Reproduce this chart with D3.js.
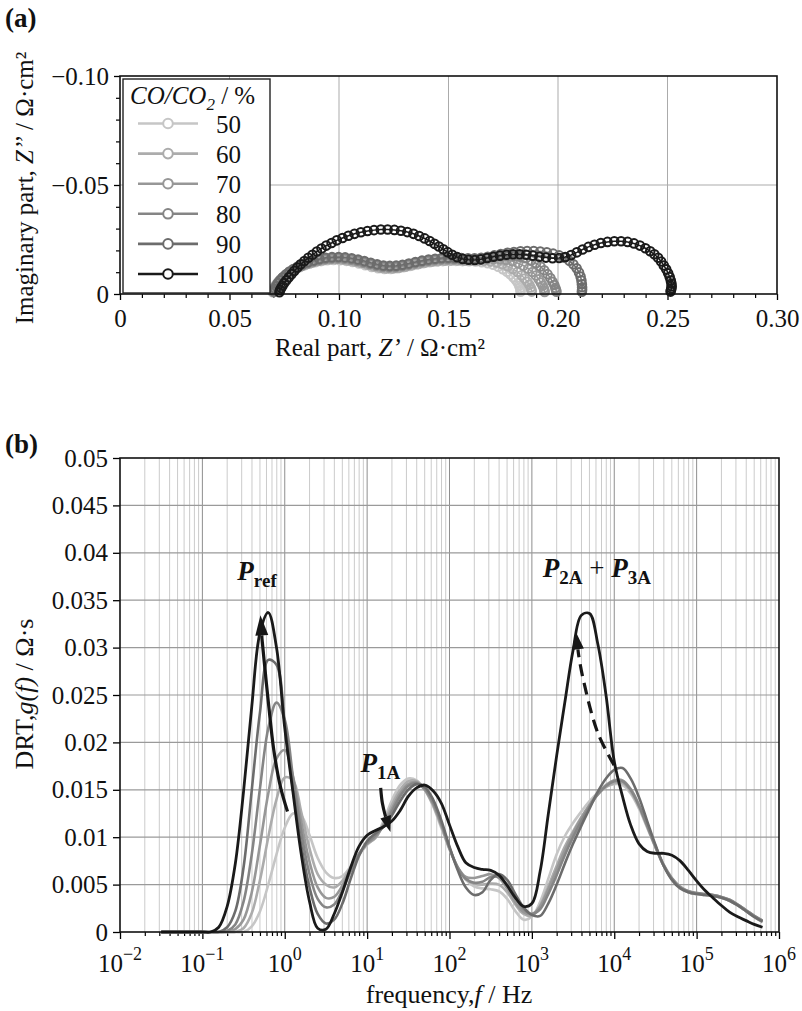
<!DOCTYPE html>
<html>
<head>
<meta charset="utf-8">
<script src="https://cdn.jsdelivr.net/npm/d3@7"></script>
<style>
  body { margin: 0; background: #fff; }
  svg { display: block; font-family: "Liberation Serif", "Times New Roman", serif; }
</style>
</head>
<body>
<svg id="chart" width="802" height="1011"></svg>
<script>
// ---------- Nyquist data (Z', Z'') in ohm·cm², one list per CO/CO2 ratio ----------
const seriesNames = ["50", "60", "70", "80", "90", "100"];
const seriesColors = ["#c6c6c6", "#acacac", "#979797", "#858585", "#6c6c6c", "#1a1a1a"];

const nyq50 = [[0.0697,-0.0008],[0.0700,-0.0019],[0.0705,-0.0030],[0.0712,-0.0042],[0.0721,-0.0054],[0.0732,-0.0066],[0.0745,-0.0078],[0.0760,-0.0090],[0.0777,-0.0101],[0.0796,-0.0112],[0.0817,-0.0122],[0.0840,-0.0131],[0.0865,-0.0139],[0.0891,-0.0146],[0.0918,-0.0151],[0.0946,-0.0155],[0.0975,-0.0156],[0.1004,-0.0155],[0.1033,-0.0152],[0.1062,-0.0147],[0.1091,-0.0140],[0.1120,-0.0132],[0.1149,-0.0124],[0.1178,-0.0118],[0.1207,-0.0115],[0.1236,-0.0115],[0.1265,-0.0118],[0.1294,-0.0123],[0.1324,-0.0129],[0.1354,-0.0135],[0.1384,-0.0141],[0.1414,-0.0146],[0.1444,-0.0149],[0.1474,-0.0151],[0.1504,-0.0152],[0.1534,-0.0152],[0.1564,-0.0151],[0.1594,-0.0150],[0.1624,-0.0149],[0.1652,-0.0146],[0.1679,-0.0141],[0.1704,-0.0134],[0.1727,-0.0125],[0.1748,-0.0114],[0.1767,-0.0102],[0.1783,-0.0089],[0.1797,-0.0076],[0.1808,-0.0063],[0.1817,-0.0050],[0.1823,-0.0038],[0.1827,-0.0027],[0.1829,-0.0018],[0.1829,-0.0010]];
const nyq60 = [[0.0699,-0.0009],[0.0702,-0.0020],[0.0708,-0.0032],[0.0715,-0.0044],[0.0725,-0.0056],[0.0736,-0.0069],[0.0750,-0.0081],[0.0765,-0.0093],[0.0783,-0.0105],[0.0802,-0.0116],[0.0824,-0.0126],[0.0847,-0.0135],[0.0872,-0.0143],[0.0899,-0.0150],[0.0927,-0.0155],[0.0955,-0.0159],[0.0984,-0.0160],[0.1014,-0.0158],[0.1043,-0.0154],[0.1072,-0.0149],[0.1101,-0.0142],[0.1130,-0.0134],[0.1159,-0.0126],[0.1188,-0.0120],[0.1217,-0.0117],[0.1246,-0.0117],[0.1275,-0.0120],[0.1304,-0.0125],[0.1334,-0.0132],[0.1364,-0.0138],[0.1394,-0.0144],[0.1424,-0.0148],[0.1454,-0.0151],[0.1484,-0.0153],[0.1514,-0.0154],[0.1544,-0.0154],[0.1574,-0.0153],[0.1604,-0.0153],[0.1634,-0.0153],[0.1663,-0.0152],[0.1692,-0.0149],[0.1720,-0.0144],[0.1746,-0.0137],[0.1771,-0.0127],[0.1794,-0.0115],[0.1815,-0.0101],[0.1833,-0.0086],[0.1848,-0.0071],[0.1860,-0.0056],[0.1869,-0.0042],[0.1875,-0.0030],[0.1879,-0.0020],[0.1880,-0.0011]];
const nyq70 = [[0.0700,-0.0010],[0.0704,-0.0021],[0.0710,-0.0033],[0.0718,-0.0045],[0.0728,-0.0058],[0.0740,-0.0071],[0.0754,-0.0084],[0.0770,-0.0096],[0.0788,-0.0108],[0.0808,-0.0119],[0.0830,-0.0129],[0.0854,-0.0138],[0.0880,-0.0146],[0.0907,-0.0153],[0.0935,-0.0158],[0.0964,-0.0161],[0.0994,-0.0162],[0.1024,-0.0160],[0.1054,-0.0156],[0.1083,-0.0150],[0.1112,-0.0143],[0.1141,-0.0135],[0.1170,-0.0128],[0.1199,-0.0123],[0.1228,-0.0121],[0.1257,-0.0122],[0.1286,-0.0126],[0.1315,-0.0132],[0.1345,-0.0139],[0.1375,-0.0145],[0.1405,-0.0150],[0.1435,-0.0154],[0.1465,-0.0157],[0.1495,-0.0158],[0.1525,-0.0158],[0.1555,-0.0157],[0.1585,-0.0156],[0.1615,-0.0156],[0.1645,-0.0157],[0.1675,-0.0159],[0.1705,-0.0160],[0.1735,-0.0159],[0.1764,-0.0156],[0.1792,-0.0150],[0.1818,-0.0141],[0.1842,-0.0130],[0.1864,-0.0116],[0.1883,-0.0101],[0.1899,-0.0085],[0.1912,-0.0068],[0.1922,-0.0052],[0.1930,-0.0038],[0.1935,-0.0026],[0.1938,-0.0016],[0.1939,-0.0009]];
const nyq80 = [[0.0702,-0.0011],[0.0706,-0.0022],[0.0712,-0.0035],[0.0720,-0.0048],[0.0730,-0.0061],[0.0742,-0.0074],[0.0756,-0.0087],[0.0772,-0.0100],[0.0790,-0.0112],[0.0810,-0.0123],[0.0832,-0.0133],[0.0856,-0.0142],[0.0882,-0.0150],[0.0909,-0.0157],[0.0937,-0.0162],[0.0966,-0.0165],[0.0996,-0.0166],[0.1026,-0.0164],[0.1056,-0.0160],[0.1085,-0.0154],[0.1114,-0.0147],[0.1143,-0.0139],[0.1172,-0.0132],[0.1201,-0.0127],[0.1230,-0.0125],[0.1259,-0.0126],[0.1288,-0.0130],[0.1317,-0.0136],[0.1347,-0.0143],[0.1377,-0.0149],[0.1407,-0.0154],[0.1437,-0.0158],[0.1467,-0.0161],[0.1497,-0.0162],[0.1527,-0.0162],[0.1557,-0.0161],[0.1587,-0.0160],[0.1617,-0.0160],[0.1647,-0.0162],[0.1677,-0.0166],[0.1707,-0.0170],[0.1737,-0.0173],[0.1767,-0.0175],[0.1797,-0.0175],[0.1826,-0.0171],[0.1853,-0.0164],[0.1878,-0.0154],[0.1900,-0.0141],[0.1920,-0.0126],[0.1937,-0.0109],[0.1952,-0.0091],[0.1965,-0.0073],[0.1975,-0.0056],[0.1983,-0.0041],[0.1988,-0.0028],[0.1991,-0.0018],[0.1993,-0.0010]];
const nyq90 = [[0.0704,-0.0012],[0.0708,-0.0024],[0.0714,-0.0037],[0.0722,-0.0050],[0.0732,-0.0063],[0.0744,-0.0077],[0.0758,-0.0090],[0.0774,-0.0103],[0.0792,-0.0115],[0.0812,-0.0126],[0.0834,-0.0137],[0.0858,-0.0146],[0.0884,-0.0154],[0.0911,-0.0161],[0.0939,-0.0166],[0.0968,-0.0169],[0.0998,-0.0170],[0.1028,-0.0168],[0.1058,-0.0164],[0.1087,-0.0158],[0.1116,-0.0151],[0.1145,-0.0143],[0.1174,-0.0136],[0.1203,-0.0131],[0.1232,-0.0129],[0.1261,-0.0130],[0.1290,-0.0134],[0.1319,-0.0140],[0.1349,-0.0147],[0.1379,-0.0153],[0.1409,-0.0158],[0.1439,-0.0162],[0.1469,-0.0165],[0.1499,-0.0166],[0.1529,-0.0166],[0.1559,-0.0165],[0.1589,-0.0164],[0.1619,-0.0164],[0.1649,-0.0166],[0.1679,-0.0171],[0.1709,-0.0177],[0.1739,-0.0183],[0.1769,-0.0189],[0.1799,-0.0193],[0.1829,-0.0196],[0.1859,-0.0197],[0.1889,-0.0197],[0.1919,-0.0195],[0.1949,-0.0191],[0.1978,-0.0185],[0.2005,-0.0177],[0.2030,-0.0166],[0.2052,-0.0152],[0.2070,-0.0136],[0.2085,-0.0118],[0.2096,-0.0099],[0.2103,-0.0080],[0.2107,-0.0062],[0.2109,-0.0045],[0.2110,-0.0031],[0.2110,-0.0019],[0.2109,-0.0010]];
const nyq100 = [[0.0728,-0.0008],[0.0731,-0.0018],[0.0736,-0.0028],[0.0742,-0.0038],[0.0750,-0.0050],[0.0760,-0.0063],[0.0771,-0.0077],[0.0783,-0.0091],[0.0796,-0.0106],[0.0810,-0.0121],[0.0825,-0.0136],[0.0842,-0.0151],[0.0860,-0.0166],[0.0879,-0.0180],[0.0899,-0.0195],[0.0920,-0.0209],[0.0942,-0.0222],[0.0966,-0.0234],[0.0990,-0.0246],[0.1016,-0.0257],[0.1043,-0.0267],[0.1071,-0.0276],[0.1100,-0.0283],[0.1130,-0.0289],[0.1160,-0.0293],[0.1191,-0.0296],[0.1222,-0.0296],[0.1253,-0.0294],[0.1283,-0.0290],[0.1312,-0.0284],[0.1340,-0.0276],[0.1366,-0.0266],[0.1391,-0.0255],[0.1414,-0.0243],[0.1436,-0.0230],[0.1456,-0.0218],[0.1476,-0.0205],[0.1496,-0.0192],[0.1517,-0.0180],[0.1540,-0.0169],[0.1565,-0.0161],[0.1592,-0.0157],[0.1620,-0.0156],[0.1648,-0.0159],[0.1676,-0.0165],[0.1705,-0.0171],[0.1735,-0.0176],[0.1765,-0.0180],[0.1795,-0.0182],[0.1825,-0.0182],[0.1855,-0.0180],[0.1885,-0.0176],[0.1915,-0.0171],[0.1945,-0.0167],[0.1975,-0.0164],[0.2005,-0.0165],[0.2033,-0.0170],[0.2060,-0.0179],[0.2086,-0.0191],[0.2112,-0.0204],[0.2139,-0.0216],[0.2167,-0.0226],[0.2196,-0.0234],[0.2226,-0.0239],[0.2257,-0.0242],[0.2288,-0.0242],[0.2318,-0.0239],[0.2347,-0.0232],[0.2374,-0.0222],[0.2399,-0.0210],[0.2421,-0.0196],[0.2440,-0.0182],[0.2457,-0.0166],[0.2471,-0.0149],[0.2483,-0.0131],[0.2494,-0.0113],[0.2503,-0.0095],[0.2510,-0.0078],[0.2515,-0.0062],[0.2518,-0.0048],[0.2519,-0.0036],[0.2518,-0.0026],[0.2516,-0.0018],[0.2514,-0.0011]];

// ---------- DRT data: frequency grid (Hz) and g(f) in ohm·s ----------
const freqHz = [
  0.0316, 0.1, 0.126, 0.158, 0.2, 0.251, 0.316, 0.398, 0.501, 0.631,
  0.794, 1, 1.26, 1.58, 2, 2.51, 3.16, 3.98, 5.01, 6.31,
  7.94, 10, 12.6, 15.8, 20, 25.1, 31.6, 39.8, 50.1, 63.1,
  79.4, 100, 126, 158, 200, 251, 316, 398, 501, 631,
  794, 1000, 1260, 1580, 2000, 2510, 3160, 3980, 5010, 6310,
  7940, 1e4, 12600, 15800, 20000, 25100, 31600, 39800, 50100, 63100,
  79400, 1e5, 126000, 158000, 200000, 251000, 316000, 398000, 501000, 631000
];
const drt50 = [
  0, 0, 0, 0, 0, 0, 0, 0.0006, 0.0022, 0.0050,
  0.0082, 0.0110, 0.0125, 0.0123, 0.0102, 0.0078, 0.0063, 0.0057, 0.0059, 0.0069,
  0.0081, 0.0092, 0.0100, 0.0117, 0.0139, 0.0155, 0.0162, 0.0160, 0.0150, 0.0133,
  0.0110, 0.0087, 0.0068, 0.0055, 0.0048, 0.0046, 0.0045, 0.0043, 0.0035, 0.0022,
  0.0013, 0.0016, 0.0032, 0.0056, 0.0082, 0.0101, 0.0115, 0.0127, 0.0138, 0.0147,
  0.0153, 0.0156, 0.0155, 0.0146, 0.0130, 0.0110, 0.0089, 0.0070, 0.0056, 0.0047,
  0.0042, 0.0040, 0.0039, 0.0038, 0.0036, 0.0033, 0.0028, 0.0022, 0.0016, 0.0010
];
const drt60 = [
  0, 0, 0, 0, 0, 0, 0.0004, 0.0020, 0.0055, 0.0100,
  0.0140, 0.0163, 0.0160, 0.0127, 0.0088, 0.0061, 0.0050, 0.0047, 0.0054, 0.0068,
  0.0082, 0.0093, 0.0099, 0.0114, 0.0134, 0.0150, 0.0159, 0.0159, 0.0150, 0.0134,
  0.0112, 0.0088, 0.0068, 0.0056, 0.0051, 0.0050, 0.0051, 0.0050, 0.0042, 0.0029,
  0.0019, 0.0017, 0.0028, 0.0048, 0.0070, 0.0090, 0.0106, 0.0121, 0.0134, 0.0145,
  0.0153, 0.0157, 0.0157, 0.0148, 0.0132, 0.0111, 0.0090, 0.0070, 0.0056, 0.0047,
  0.0042, 0.0040, 0.0039, 0.0038, 0.0036, 0.0033, 0.0028, 0.0022, 0.0016, 0.0011
];
const drt70 = [
  0, 0, 0, 0, 0, 0.0003, 0.0013, 0.0042, 0.0092, 0.0146,
  0.0183, 0.0192, 0.0164, 0.0117, 0.0074, 0.0047, 0.0036, 0.0037, 0.0049, 0.0066,
  0.0082, 0.0093, 0.0100, 0.0113, 0.0130, 0.0146, 0.0156, 0.0158, 0.0150, 0.0135,
  0.0113, 0.0088, 0.0068, 0.0058, 0.0057, 0.0059, 0.0061, 0.0057, 0.0046, 0.0031,
  0.0021, 0.0019, 0.0027, 0.0045, 0.0066, 0.0086, 0.0104, 0.0120, 0.0134, 0.0146,
  0.0155, 0.0160, 0.0160, 0.0151, 0.0134, 0.0113, 0.0091, 0.0071, 0.0057, 0.0048,
  0.0043, 0.0041, 0.0040, 0.0039, 0.0037, 0.0034, 0.0029, 0.0023, 0.0017, 0.0012
];
const drt80 = [
  0, 0, 0, 0, 0.0001, 0.0008, 0.0032, 0.0082, 0.0152, 0.0215,
  0.0242, 0.0224, 0.0163, 0.0106, 0.0061, 0.0035, 0.0026, 0.0029, 0.0044, 0.0064,
  0.0082, 0.0094, 0.0102, 0.0112, 0.0127, 0.0143, 0.0154, 0.0157, 0.0151, 0.0137,
  0.0115, 0.0089, 0.0068, 0.0056, 0.0052, 0.0053, 0.0058, 0.0058, 0.0050, 0.0036,
  0.0024, 0.0019, 0.0024, 0.0040, 0.0060, 0.0081, 0.0100, 0.0117, 0.0132, 0.0145,
  0.0154, 0.0159, 0.0159, 0.0150, 0.0133, 0.0112, 0.0090, 0.0070, 0.0056, 0.0047,
  0.0043, 0.0041, 0.0040, 0.0039, 0.0037, 0.0034, 0.0029, 0.0023, 0.0017, 0.0012
];
const drt90 = [
  0, 0, 0, 0, 0.0005, 0.0022, 0.0068, 0.0150, 0.0232, 0.0287,
  0.0282, 0.0220, 0.0150, 0.0092, 0.0047, 0.0019, 0.0009, 0.0013, 0.0030, 0.0056,
  0.0080, 0.0096, 0.0104, 0.0111, 0.0123, 0.0138, 0.0150, 0.0156, 0.0153, 0.0140,
  0.0118, 0.0090, 0.0065, 0.0047, 0.0039, 0.0042, 0.0055, 0.0061, 0.0055, 0.0040,
  0.0026, 0.0018, 0.0017, 0.0030, 0.0050, 0.0072, 0.0093, 0.0112, 0.0130, 0.0148,
  0.0162, 0.0171, 0.0173, 0.0162, 0.0142, 0.0117, 0.0092, 0.0070, 0.0055, 0.0046,
  0.0042, 0.0040, 0.0039, 0.0038, 0.0036, 0.0033, 0.0028, 0.0022, 0.0016, 0.0011
];
const drt100 = [
  0, 0, 0, 0.0005, 0.0027, 0.0072, 0.0148, 0.0238, 0.0316, 0.0337,
  0.0300, 0.0215, 0.0147, 0.0083, 0.0032, 0.0004, 0.0003, 0.0019, 0.0042, 0.0068,
  0.0090, 0.0102, 0.0107, 0.0111, 0.0117, 0.0128, 0.0143, 0.0152, 0.0155, 0.0149,
  0.0136, 0.0113, 0.0090, 0.0073, 0.0068, 0.0066, 0.0065, 0.0060, 0.0049, 0.0036,
  0.0027, 0.0030, 0.0064, 0.0124, 0.0186, 0.0242, 0.0297, 0.0334, 0.0336, 0.0304,
  0.0250, 0.0180, 0.0143, 0.0113, 0.0093, 0.0085, 0.0083, 0.0083, 0.0081, 0.0075,
  0.0065, 0.0054, 0.0044, 0.0036, 0.0028, 0.0021, 0.0016, 0.0012, 0.0008, 0.0005
];

// ---------- tick values ----------
const xTicksA = [0, 0.05, 0.10, 0.15, 0.20, 0.25, 0.30];
const yTicksA = [0, -0.05, -0.10];
const xTicksB = [1e-2, 1e-1, 1e0, 1e1, 1e2, 1e3, 1e4, 1e5, 1e6];
const yTicksB = [0, 0.005, 0.01, 0.015, 0.02, 0.025, 0.03, 0.035, 0.04, 0.045, 0.05];

// ---------- annotation anchors (frequency, g) ----------
const arrowRef = [[1.08, 0.0127], [0.887, 0.0153], [0.736, 0.0192], [0.640, 0.0238], [0.582, 0.0273], [0.531, 0.0308], [0.507, 0.0334]];
const arrow1A = [[14.6, 0.0152], [15.3, 0.0136], [16.7, 0.0122], [19.2, 0.01055]];
const arrow23A = [[9960, 0.0176], [6310, 0.0210], [4140, 0.0269], [3700, 0.0292], [3400, 0.0317]];
const labelRef = [0.266, 0.0371];
const label1A = [8.3, 0.0169];
const label23A = [1352, 0.03745];

const nyqSeries = [nyq50, nyq60, nyq70, nyq80, nyq90, nyq100];
const drtSeries = [drt50, drt60, drt70, drt80, drt90, drt100];

const FONT = '"Liberation Serif", "Times New Roman", serif';
const svg = d3.select("#chart");

// ================= Panel (a): Nyquist plot =================
const A = { left: 120, right: 777, top: 76, bottom: 294 };
const xA = d3.scaleLinear().domain([0, 0.30]).range([A.left, A.right]);
const yA = d3.scaleLinear().domain([0, -0.10]).range([A.bottom, A.top]);
const fmtA = d => d === 0 ? "0" : d3.format(".2f")(d);

const gA = svg.append("g");
// grid
gA.append("g").selectAll("line").data(xTicksA.filter(d => d > 0 && d < 0.30)).join("line")
  .attr("x1", d => xA(d)).attr("x2", d => xA(d)).attr("y1", A.top).attr("y2", A.bottom)
  .attr("stroke", "#ababab").attr("stroke-width", 1);
gA.append("g").selectAll("line").data(yTicksA.filter(d => d !== 0 && d !== -0.10)).join("line")
  .attr("x1", A.left).attr("x2", A.right).attr("y1", d => yA(d)).attr("y2", d => yA(d))
  .attr("stroke", "#ababab").attr("stroke-width", 1);

// minor ticks
const minorXA = d3.range(1, 30).map(i => i / 100).filter(v => Math.round(v * 100) % 5 !== 0);
const minorYA = d3.range(1, 10).map(i => -i / 100).filter(v => Math.round(-v * 100) % 5 !== 0);
gA.append("g").attr("transform", `translate(0,${A.bottom})`)
  .call(d3.axisBottom(xA).tickValues(minorXA).tickSize(4).tickFormat(""))
  .call(g => g.select(".domain").remove())
  .selectAll("line").attr("stroke-width", 1.2);
gA.append("g").attr("transform", `translate(${A.left},0)`)
  .call(d3.axisLeft(yA).tickValues(minorYA).tickSize(4).tickFormat(""))
  .call(g => g.select(".domain").remove())
  .selectAll("line").attr("stroke-width", 1.2);

// major axes
const axXA = gA.append("g").attr("transform", `translate(0,${A.bottom})`)
  .call(d3.axisBottom(xA).tickValues(xTicksA).tickSize(6).tickPadding(9).tickFormat(fmtA));
const axYA = gA.append("g").attr("transform", `translate(${A.left},0)`)
  .call(d3.axisLeft(yA).tickValues(yTicksA).tickSize(6).tickPadding(5).tickFormat(fmtA));
[axXA, axYA].forEach(ax => {
  ax.attr("font-family", FONT).attr("font-size", 25);
  ax.select(".domain").remove();
  ax.selectAll("line").attr("stroke-width", 1.3);
  ax.selectAll("text").attr("fill", "#111");
});

// series: thin connecting line + open circles
const lineA = d3.line().x(d => xA(d[0])).y(d => yA(d[1]));
nyqSeries.forEach((data, i) => {
  const g = gA.append("g");
  g.append("path").attr("d", lineA(data)).attr("fill", "none")
    .attr("stroke", seriesColors[i]).attr("stroke-width", 1.5);
  g.selectAll("circle").data(data).join("circle")
    .attr("cx", d => xA(d[0])).attr("cy", d => yA(d[1])).attr("r", 4.3)
    .attr("fill", "none").attr("stroke", seriesColors[i]).attr("stroke-width", 2);
});

// frame
gA.append("rect").attr("x", A.left).attr("y", A.top)
  .attr("width", A.right - A.left).attr("height", A.bottom - A.top)
  .attr("fill", "none").attr("stroke", "#111").attr("stroke-width", 1.6);

// legend
const leg = gA.append("g");
leg.append("rect").attr("x", 123).attr("y", 79).attr("width", 147).attr("height", 214)
  .attr("fill", "#fff").attr("stroke", "#222").attr("stroke-width", 1.4);
const legTitle = leg.append("text").attr("x", 130).attr("y", 104)
  .attr("font-size", 25).attr("fill", "#111");
legTitle.append("tspan").attr("font-style", "italic").text("CO/CO");
legTitle.append("tspan").attr("font-style", "italic").attr("font-size", 17).attr("dy", 6).text("2");
legTitle.append("tspan").attr("dy", -6).text(" / %");
seriesNames.forEach((name, i) => {
  const y = 123.5 + i * 30.1;
  leg.append("line").attr("x1", 138).attr("x2", 198).attr("y1", y).attr("y2", y)
    .attr("stroke", seriesColors[i]).attr("stroke-width", 2.6);
  leg.append("circle").attr("cx", 168).attr("cy", y).attr("r", 4.8)
    .attr("fill", "#fff").attr("stroke", seriesColors[i]).attr("stroke-width", 2);
  leg.append("text").attr("x", 216).attr("y", y + 9).attr("font-size", 25)
    .attr("fill", "#111").text(name);
});

// axis titles (a)
const tAx = svg.append("text").attr("x", 380).attr("y", 356).attr("text-anchor", "middle")
  .attr("font-size", 25).attr("fill", "#111");
tAx.append("tspan").text("Real part, ");
tAx.append("tspan").attr("font-style", "italic").text("Z’");
tAx.append("tspan").text(" / Ω·cm²");
const tAy = svg.append("text").attr("transform", "translate(33,188) rotate(-90)")
  .attr("text-anchor", "middle").attr("font-size", 25).attr("fill", "#111");
tAy.append("tspan").text("Imaginary part, ");
tAy.append("tspan").attr("font-style", "italic").text("Z’’");
tAy.append("tspan").text(" / Ω·cm²");

svg.append("text").attr("x", 5).attr("y", 27).attr("font-size", 27).attr("font-weight", "bold")
  .attr("fill", "#111").text("(a)");

// ================= Panel (b): DRT =================
const B = { left: 120, right: 779, top: 458, bottom: 932 };
const xB = d3.scaleLog().domain([1e-2, 1e6]).range([B.left, B.right]);
const yB = d3.scaleLinear().domain([0, 0.05]).range([B.bottom, B.top]);

const gB = svg.append("g");
// vertical grid: minor (2..9) and decades
const minorB = [];
for (let e = -2; e < 6; e++) for (let m = 2; m <= 9; m++) minorB.push(m * Math.pow(10, e));
gB.append("g").selectAll("line").data(minorB).join("line")
  .attr("x1", d => xB(d)).attr("x2", d => xB(d)).attr("y1", B.top).attr("y2", B.bottom)
  .attr("stroke", "#cbcbcb").attr("stroke-width", 1);
gB.append("g").selectAll("line").data(xTicksB.slice(1, -1)).join("line")
  .attr("x1", d => xB(d)).attr("x2", d => xB(d)).attr("y1", B.top).attr("y2", B.bottom)
  .attr("stroke", "#8e8e8e").attr("stroke-width", 1);
// horizontal grid
gB.append("g").selectAll("line").data(yTicksB.slice(1, -1)).join("line")
  .attr("x1", B.left).attr("x2", B.right).attr("y1", d => yB(d)).attr("y2", d => yB(d))
  .attr("stroke", "#9a9a9a").attr("stroke-width", 1.2);

// ticks
gB.append("g").attr("transform", `translate(0,${B.bottom})`)
  .call(d3.axisBottom(xB).tickValues(minorB).tickSize(4).tickFormat(""))
  .call(g => g.select(".domain").remove())
  .selectAll("line").attr("stroke-width", 1.2);
const axXB = gB.append("g").attr("transform", `translate(0,${B.bottom})`)
  .call(d3.axisBottom(xB).tickValues(xTicksB).tickSize(7).tickFormat(""));
axXB.select(".domain").remove();
axXB.selectAll("line").attr("stroke-width", 1.3);
const axYB = gB.append("g").attr("transform", `translate(${B.left},0)`)
  .call(d3.axisLeft(yB).tickValues(yTicksB).tickSize(7).tickPadding(5)
    .tickFormat(d => d === 0 ? "0" : String(+d.toFixed(3))));
axYB.attr("font-family", FONT).attr("font-size", 25);
axYB.select(".domain").remove();
axYB.selectAll("line").attr("stroke-width", 1.3);
axYB.selectAll("text").attr("fill", "#111");

// decade labels with superscript exponents
const expFmt = e => (e < 0 ? "\u2212" : "") + Math.abs(e);
xTicksB.forEach(v => {
  const e = Math.round(Math.log10(v));
  const t = gB.append("text").attr("x", xB(v)).attr("y", 972).attr("text-anchor", "middle")
    .attr("font-size", 25).attr("fill", "#111");
  t.append("tspan").text("10");
  t.append("tspan").attr("font-size", 18).attr("dy", -12).text(expFmt(e));
});

// DRT curves
const lineB = d3.line().x((d, i) => xB(freqHz[i])).y(d => yB(d)).curve(d3.curveCatmullRom.alpha(0.5));
drtSeries.forEach((data, i) => {
  gB.append("path").attr("d", lineB(data)).attr("fill", "none")
    .attr("stroke", seriesColors[i]).attr("stroke-width", i === 5 ? 2.8 : 2.6)
    .attr("stroke-linejoin", "round");
});

// frame
gB.append("rect").attr("x", B.left).attr("y", B.top)
  .attr("width", B.right - B.left).attr("height", B.bottom - B.top)
  .attr("fill", "none").attr("stroke", "#111").attr("stroke-width", 1.6);

// annotation arrows
function drawArrow(pts, headLen, headWidth, dashed) {
  const P = pts.map(([f, v]) => [xB(f), yB(v)]);
  const tip = P[P.length - 1], prev = P[P.length - 2];
  const dx = tip[0] - prev[0], dy = tip[1] - prev[1], len = Math.hypot(dx, dy);
  const ux = dx / len, uy = dy / len;
  const base = [tip[0] - ux * headLen, tip[1] - uy * headLen];
  const body = P.slice(0, -1).concat([base]);
  const p = gB.append("path").attr("d", d3.line().curve(d3.curveCatmullRom)(body))
    .attr("fill", "none").attr("stroke", "#161616").attr("stroke-width", 3.2);
  if (dashed) p.attr("stroke-dasharray", "12,7");
  const nx = -uy, ny = ux, hw = headWidth / 2;
  gB.append("path")
    .attr("d", `M${tip[0]},${tip[1]}L${base[0] + nx * hw},${base[1] + ny * hw}L${base[0] - nx * hw},${base[1] - ny * hw}Z`)
    .attr("fill", "#161616");
}
drawArrow(arrowRef, 20, 13, false);
drawArrow(arrow1A, 16, 11, false);
drawArrow(arrow23A, 18, 12, true);

// peak labels
function peakLabel(anchor, parts) {
  const t = gB.append("text").attr("x", xB(anchor[0])).attr("y", yB(anchor[1]))
    .attr("font-size", 27).attr("fill", "#111");
  parts.forEach(([txt, kind]) => {
    if (kind === "P") t.append("tspan").attr("font-style", "italic").attr("font-weight", "bold").text(txt);
    else if (kind === "sub") t.append("tspan").attr("font-weight", "bold").attr("font-size", 19).attr("dy", 7).text(txt);
    else t.append("tspan").attr("dy", -7).text(txt);
  });
}
peakLabel(labelRef, [["P", "P"], ["ref", "sub"]]);
peakLabel(label1A, [["P", "P"], ["1A", "sub"]]);
peakLabel(label23A, [["P", "P"], ["2A", "sub"], [" + ", "plain"], ["P", "P"], ["3A", "sub"]]);

// axis titles (b)
const tBx = svg.append("text").attr("x", 449).attr("y", 1003).attr("text-anchor", "middle")
  .attr("font-size", 26).attr("fill", "#111");
tBx.append("tspan").text("frequency,");
tBx.append("tspan").attr("font-style", "italic").text("f");
tBx.append("tspan").text(" / Hz");
const tBy = svg.append("text").attr("transform", "translate(33,694) rotate(-90)")
  .attr("text-anchor", "middle").attr("font-size", 26).attr("fill", "#111");
tBy.append("tspan").text("DRT,");
tBy.append("tspan").attr("font-style", "italic").text("g(f)");
tBy.append("tspan").text(" / Ω·s");

svg.append("text").attr("x", 5).attr("y", 453).attr("font-size", 27).attr("font-weight", "bold")
  .attr("fill", "#111").text("(b)");
</script>
</body>
</html>
